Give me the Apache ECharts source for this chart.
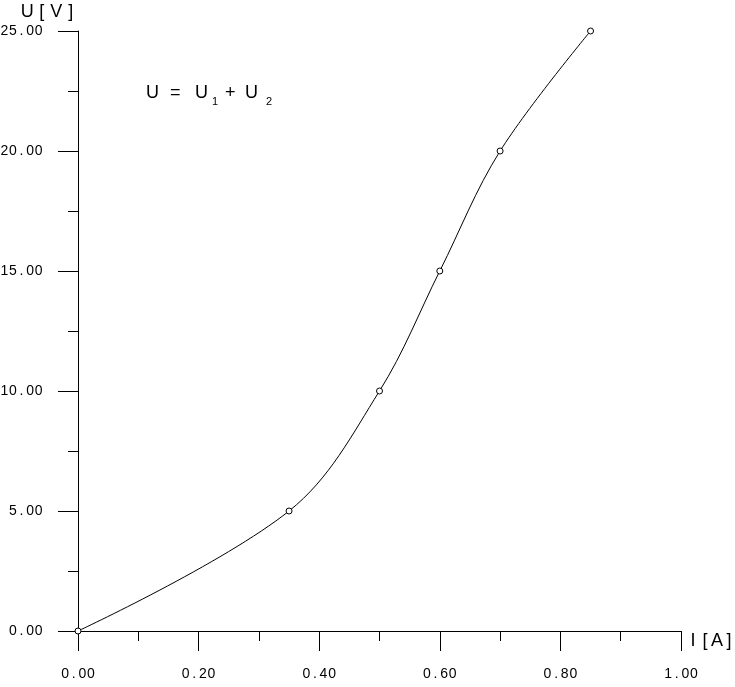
<!DOCTYPE html>
<html>
<head>
<meta charset="utf-8">
<script src="https://cdn.jsdelivr.net/npm/echarts@6/dist/echarts.min.js"></script>
<style>html,body{margin:0;padding:0;background:#fff;}#c{width:735px;height:687px;}</style>
</head>
<body>
<div id="c"></div>
<script>
const currentA = [0.00, 0.35, 0.50, 0.60, 0.70, 0.85];
const voltageV = [0.0, 5.0, 10.0, 15.0, 20.0, 25.0];
const xTickLabels = ['0.00', '0.20', '0.40', '0.60', '0.80', '1.00'];
const yTickLabels = ['0.00', '5.00', '10.00', '15.00', '20.00', '25.00'];

const FONT = '"Liberation Sans", Arial, sans-serif';
// each character in its own fixed-width slot (wide letter spacing)
const slots = s => s.split('').map(ch => '{c|' + ch + '}').join('');
const nameSlots = s => s.split(' ').map(ch => '{n|' + ch + '}').join('');

const chart = echarts.init(document.getElementById('c'));
chart.setOption({
  animation: false,
  backgroundColor: '#fff',
  grid: { left: 78, top: 31, right: 54, bottom: 56, containLabel: false, outerBoundsMode: 'none' },
  xAxis: {
    type: 'value', min: 0, max: 1, interval: 0.2,
    name: nameSlots('I [ A ]'), nameLocation: 'end', nameGap: 6,
    nameTextStyle: { color: '#000', align: 'left', verticalAlign: 'top', padding: [1, 0, 0, 0],
      rich: { n: { fontFamily: FONT, fontSize: 18, color: '#000', width: 12, align: 'center' } } },
    axisLine: { show: true, onZero: false, lineStyle: { color: '#000', width: 1 } },
    axisTick: { show: true, length: 20, lineStyle: { color: '#000', width: 1 } },
    minorTick: { show: true, splitNumber: 2, length: 10, lineStyle: { color: '#000', width: 1 } },
    splitLine: { show: false },
    axisLabel: {
      margin: 36, color: '#000', verticalAlign: 'top',
      rich: { c: { fontFamily: FONT, fontSize: 14, color: '#000', width: 8.6, align: 'center' } },
      formatter: v => { const i = Math.round(v / 0.2); return slots(xTickLabels[i] || ''); }
    }
  },
  yAxis: {
    type: 'value', min: 0, max: 25, interval: 5,
    name: nameSlots('U [ V ]'), nameLocation: 'end', nameGap: 19,
    nameTextStyle: { color: '#000', align: 'right', verticalAlign: 'middle',
      rich: { n: { fontFamily: FONT, fontSize: 18, color: '#000', width: 14.5, align: 'center' } } },
    axisLine: { show: true, onZero: false, lineStyle: { color: '#000', width: 1 } },
    axisTick: { show: true, length: 20, lineStyle: { color: '#000', width: 1 } },
    minorTick: { show: true, splitNumber: 2, length: 10, lineStyle: { color: '#000', width: 1 } },
    splitLine: { show: false },
    axisLabel: {
      margin: 35, color: '#000',
      rich: { c: { fontFamily: FONT, fontSize: 14, color: '#000', width: 8.6, align: 'center' } },
      formatter: v => { const i = Math.round(v / 5); return slots(yTickLabels[i] || ''); }
    }
  },
  graphic: [
    { type: 'text', left: 146, top: 84, style: { text: 'U', font: '18px ' + FONT, fill: '#000' } },
    { type: 'text', left: 170, top: 84, style: { text: '=', font: '18px ' + FONT, fill: '#000' } },
    { type: 'text', left: 195, top: 84, style: { text: 'U', font: '18px ' + FONT, fill: '#000' } },
    { type: 'text', left: 212, top: 96, style: { text: '1', font: '11px ' + FONT, fill: '#000' } },
    { type: 'text', left: 225, top: 84, style: { text: '+', font: '18px ' + FONT, fill: '#000' } },
    { type: 'text', left: 245, top: 84, style: { text: 'U', font: '18px ' + FONT, fill: '#000' } },
    { type: 'text', left: 266, top: 96, style: { text: '2', font: '11px ' + FONT, fill: '#000' } }
  ],
  series: [{
    type: 'line',
    data: currentA.map((x, i) => [x, voltageV[i]]),
    smooth: 0.35,
    symbol: 'circle', symbolSize: 6,
    lineStyle: { color: '#000', width: 1 },
    itemStyle: { color: '#fff', borderColor: '#000', borderWidth: 1 }
  }]
});
</script>
</body>
</html>
